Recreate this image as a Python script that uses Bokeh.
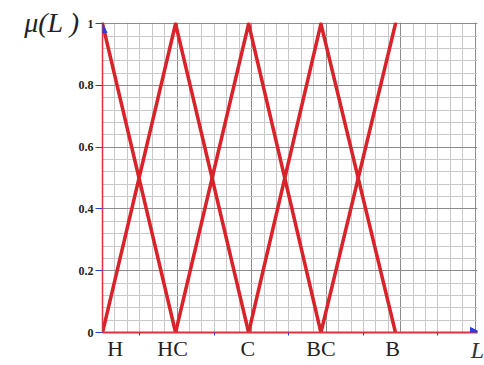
from bokeh.plotting import figure
from bokeh.models import Range1d, LinearAxis, FixedTicker, Grid, Arrow, NormalHead
from bokeh.embed import file_html
from bokeh.resources import INLINE

# membership-function break points (L, in grid units)
term_names = ["H", "HC", "C", "BC", "B"]
term_peaks = [0.0, 0.98, 1.96, 2.93, 3.93]
# tick-label positions on L axis (as drawn, H shifted right of the axis)
label_pos = [0.17, 0.94, 1.95, 2.93, 3.89]
x_minor_ticks = [0.5, 1.5, 2.5, 3.5, 4.5]
y_ticks = [0, 0.2, 0.4, 0.6, 0.8, 1]
y_tick_labels = ["0", "0.2", "0.4", "0.6", "0.8", "1"]

# series: x / mu values of each triangular term
mu_H_x = [0.0, 0.98]
mu_H_y = [1, 0]
mu_HC_x = [0.0, 0.98, 1.96]
mu_HC_y = [0, 1, 0]
mu_C_x = [0.98, 1.96, 2.93]
mu_C_y = [0, 1, 0]
mu_BC_x = [1.96, 2.93, 3.93]
mu_BC_y = [0, 1, 0]
mu_B_x = [2.93, 3.93]
mu_B_y = [0, 1]

x_major_grid = [0, 1, 2, 3, 4, 5]
x_minor_grid = [i / 6 for i in range(0, 31)]
y_major_grid = [0, 0.2, 0.4, 0.6, 0.8, 1.0]
y_minor_grid = [i / 25 for i in range(0, 26)]

RED = "#d8232a"
BLUE = "#2b3fd6"

W, H = 484, 365
p = figure(width=W, height=H, output_backend="svg", toolbar_location=None,
           x_axis_location=None, y_axis_location=None,
           x_range=Range1d(0, 5.03), y_range=Range1d(0, 1.004),
           min_border_left=102, min_border_right=7, min_border_top=22, min_border_bottom=32)
p.outline_line_color = None
p.background_fill_color = "white"

p.add_layout(Grid(dimension=0, ticker=FixedTicker(ticks=x_major_grid, minor_ticks=x_minor_grid),
                  grid_line_color="#8c8c8c", grid_line_width=1,
                  minor_grid_line_color="#c8c8c8", minor_grid_line_width=1))
p.add_layout(Grid(dimension=1, ticker=FixedTicker(ticks=y_major_grid, minor_ticks=y_minor_grid),
                  grid_line_color="#8c8c8c", grid_line_width=1,
                  minor_grid_line_color="#c8c8c8", minor_grid_line_width=1))

yaxis = LinearAxis(ticker=FixedTicker(ticks=y_ticks, minor_ticks=[]),
                   major_label_overrides={t: s for t, s in zip(y_ticks, y_tick_labels)})
yaxis.axis_line_color = "#e0303c"
yaxis.axis_line_width = 1.5
yaxis.major_tick_line_color = BLUE
yaxis.major_tick_out = 7
yaxis.major_tick_in = 0
yaxis.major_label_standoff = 2
yaxis.major_label_text_font = "Liberation Serif"
yaxis.major_label_text_font_style = "bold"
yaxis.major_label_text_font_size = "12px"
yaxis.major_label_text_color = "#222222"
yaxis.axis_label = "μ(L )"
yaxis.axis_label_orientation = "horizontal"
yaxis.axis_label_align = "end"
yaxis.axis_label_standoff = -4
yaxis.axis_label_text_font = "Liberation Serif"
yaxis.axis_label_text_font_style = "italic"
yaxis.axis_label_text_font_size = "28px"
yaxis.axis_label_text_color = "#222222"
p.add_layout(yaxis, "left")

xaxis = LinearAxis(ticker=FixedTicker(ticks=label_pos, minor_ticks=x_minor_ticks),
                   major_label_overrides={t: s for t, s in zip(label_pos, term_names)})
xaxis.axis_line_color = "#e0303c"
xaxis.axis_line_width = 2
xaxis.major_tick_line_color = None
xaxis.major_tick_out = 0
xaxis.major_tick_in = 0
xaxis.minor_tick_line_color = BLUE
xaxis.minor_tick_out = 3
xaxis.minor_tick_in = 0
xaxis.major_label_standoff = 0
xaxis.major_label_text_font = "Liberation Serif"
xaxis.major_label_text_font_size = "22px"
xaxis.major_label_text_color = "#222222"
xaxis.axis_label = "L"
xaxis.axis_label_align = "end"
xaxis.axis_label_standoff = -27
xaxis.axis_label_text_font = "Liberation Serif"
xaxis.axis_label_text_font_style = "italic"
xaxis.axis_label_text_font_size = "24px"
xaxis.axis_label_text_color = "#333333"
p.add_layout(xaxis, "below")

for xs, ys in [(mu_H_x, mu_H_y), (mu_HC_x, mu_HC_y), (mu_C_x, mu_C_y),
               (mu_BC_x, mu_BC_y), (mu_B_x, mu_B_y)]:
    p.line(xs, ys, line_color=RED, line_width=3.5, line_join="round", line_cap="round")

p.add_layout(Arrow(end=NormalHead(size=9, fill_color=BLUE, line_color=BLUE),
                   x_start=0, y_start=0.97, x_end=0, y_end=1.0, line_alpha=0))
p.add_layout(Arrow(end=NormalHead(size=10, fill_color=BLUE, line_color=BLUE),
                   x_start=4.9, y_start=0, x_end=5.07, y_end=0, line_alpha=0))

open("out.html", "w").write(file_html(p, INLINE))
